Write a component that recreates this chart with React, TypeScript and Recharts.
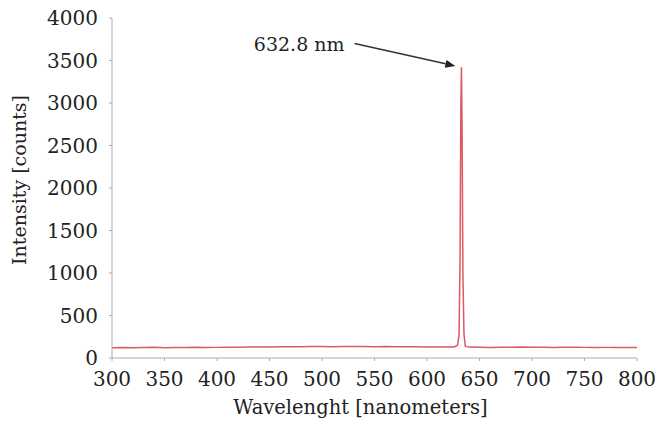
import { LineChart, Line, XAxis, YAxis, ReferenceLine } from "recharts";

const wavelengths = [
  300, 310, 320, 330, 340, 350, 360, 370, 380, 390, 400, 410, 420, 430, 440, 450, 460, 470, 480, 490, 500,
  510, 520, 530, 540, 550, 560, 570, 580, 590, 600, 610, 620, 626, 629, 630.5, 631.5, 632.2, 632.8, 633.4,
  634.2, 635.2, 636.5, 640, 650, 660, 670, 680, 690, 700, 710, 720, 730, 740, 750, 760, 770, 780, 790, 800,
];
const counts = [
  122, 124, 121, 123, 125, 122, 124, 123, 126, 124, 125, 127, 126, 128, 130, 129, 131, 133, 132, 134, 135,
  133, 136, 134, 135, 133, 134, 132, 133, 131, 130, 129, 128, 130, 150, 260, 1200, 2900, 3420, 2700,
  1000, 280, 140, 128, 126, 125, 127, 126, 128, 127, 126, 125, 127, 126, 125, 124, 125, 124, 123, 124,
];
const xTicks = [300, 350, 400, 450, 500, 550, 600, 650, 700, 750, 800];
const yTicks = [0, 500, 1000, 1500, 2000, 2500, 3000, 3500, 4000];

const xTitle = "Wavelenght [nanometers]";
const yTitle = "Intensity [counts]";
const peakLabel = "632.8 nm";
const arrowFrom = { x: 531, y: 3700 };
const arrowTo = { x: 627, y: 3435 };

const data = wavelengths.map((w, i) => ({ w, c: counts[i] }));

// only DejaVu Serif resolves to a serif face in the sandbox
const font = "DejaVu Serif";
const axisColor = "#a8adb5";
const textColor = "#222";

const Arrow = (props: any) => {
  const { x1, y1, x2, y2 } = props;
  const ang = Math.atan2(y2 - y1, x2 - x1);
  const len = 10;
  const w = 4;
  const bx = x2 - len * Math.cos(ang);
  const by = y2 - len * Math.sin(ang);
  const px = -Math.sin(ang) * w;
  const py = Math.cos(ang) * w;
  return (
    <g>
      <line x1={x1} y1={y1} x2={bx} y2={by} stroke="#333" strokeWidth={1.6} />
      <polygon points={`${x2},${y2} ${bx + px},${by + py} ${bx - px},${by - py}`} fill={textColor} />
      <text x={x1 - 10} y={y1 + 7} textAnchor="end" fontFamily={font} fontSize={19} fill={textColor}>
        {peakLabel}
      </text>
    </g>
  );
};

const XTitle = ({ viewBox }: any) => (
  <text x={viewBox.x + viewBox.width / 2 - 14} y={viewBox.y + 56} textAnchor="middle" fontFamily={font} fontSize={19.5} fill={textColor}>
    {xTitle}
  </text>
);

const YTitle = ({ viewBox }: any) => {
  const cx = viewBox.x + 26;
  const cy = viewBox.y + viewBox.height / 2 - 8;
  return (
    <text x={cx} y={cy} transform={`rotate(-90 ${cx} ${cy})`} textAnchor="middle" fontFamily={font} fontSize={19} fill={textColor}>
      {yTitle}
    </text>
  );
};

export default function App() {
  return (
    <div style={{ position: "absolute", left: 0, top: 0, background: "#fff" }}>
      <LineChart width={658} height={432} data={data} margin={{ top: 18, right: 21, left: 0, bottom: 0 }}>
        <XAxis
          dataKey="w"
          type="number"
          domain={[300, 800]}
          ticks={xTicks}
          stroke={axisColor}
          tickSize={3}
          tickMargin={11}
          height={74}
          tick={{ fill: textColor, fontSize: 20, fontFamily: font }}
          label={<XTitle />}
        />
        <YAxis
          type="number"
          domain={[0, 4000]}
          ticks={yTicks}
          stroke={axisColor}
          tickSize={3}
          tickMargin={11}
          width={112}
          tick={{ fill: textColor, fontSize: 20, fontFamily: font }}
          label={<YTitle />}
        />
        <ReferenceLine
          segment={[arrowFrom, arrowTo]}
          stroke="#333"
          ifOverflow="visible"
          shape={Arrow}
        />
        <Line dataKey="c" type="linear" stroke="#dc5862" strokeWidth={1.5} dot={false} isAnimationActive={false} />
      </LineChart>
    </div>
  );
}
